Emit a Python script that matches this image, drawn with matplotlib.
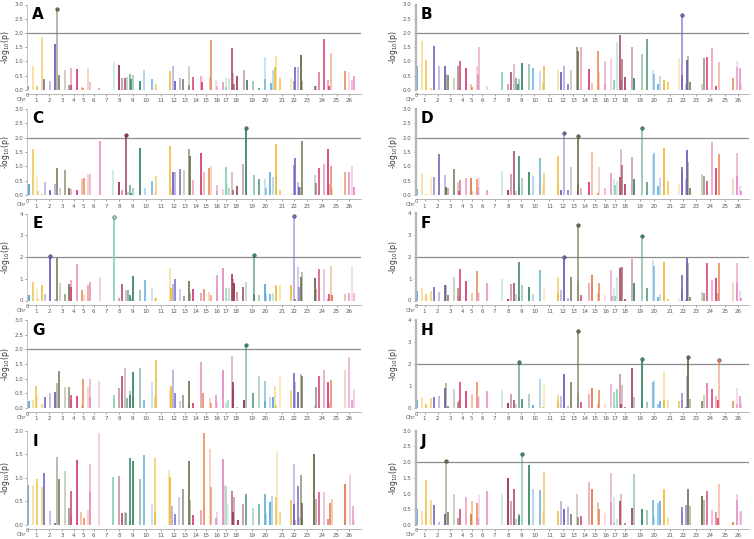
import numpy as np
import matplotlib
matplotlib.use("Agg")
import matplotlib.pyplot as plt
from matplotlib.transforms import blended_transform_factory, offset_copy

# chromosome label positions and colour borders (cumulative genome scale, 0-100)
chr_labels = [str(i) for i in range(1, 27)]
chr_mid = [2.65, 6.6, 10.4, 13.9, 16.8, 19.95, 23.7, 27.65, 31.65, 35.6, 40.1, 44.05, 47.3,
           50.6, 53.7, 56.9, 59.65, 62.7, 67.3, 71.45, 76.3, 80.1, 84.0, 88.35, 92.75, 96.6]
chr_edges = [1.2, 4.9, 8.75, 12.9, 15.5, 18.6, 23.0, 26.8, 29.65, 34.5, 38.0, 43.2, 46.2,
             49.2, 52.7, 55.8, 59.1, 61.0, 65.2, 70.4, 74.0, 79.5, 81.65, 87.0, 90.65, 96.0]

# A
a_pos = [0.3, 1.8, 2.8, 3.0, 4.5, 5.1, 6.8, 8.4, 8.8, 9.6, 11.4, 12.6, 13.0, 13.2, 15.0, 16.3, 16.6,
         18.3, 18.8, 21.5, 25.9, 27.6, 28.4, 29.4, 30.0, 30.7, 31.1, 31.8, 33.9, 35.1, 37.3, 38.2,
         38.5, 42.8, 43.6, 44.4, 45.7, 46.7, 48.4, 48.6, 49.6, 52.2, 52.4, 54.7, 55.1, 56.6, 56.8,
         58.6, 59.5, 59.7, 60.5, 61.5, 61.6, 62.0, 63.0, 64.9, 65.8, 67.8, 69.6, 71.3, 71.4, 73.0,
         73.6, 74.4, 74.7, 75.8, 79.1, 80.0, 80.2, 81.3, 82.0, 82.4, 86.3, 86.7, 87.4, 89.0, 90.2,
         90.6, 91.2, 95.2, 96.6, 97.5, 98.0]
a_val = [0.12, 0.84, 0.15, 0.10, 1.84, 0.37, 0.30, 1.60, 2.85, 0.52, 0.68, 0.17, 0.17, 0.78, 0.72,
         0.10, 0.05, 0.75, 0.27, 0.05, 0.98, 0.86, 0.40, 0.40, 0.44, 0.56, 0.38, 0.53, 0.30, 0.68,
         0.37, 0.15, 0.22, 0.65, 0.83, 0.30, 0.43, 0.38, 0.84, 0.18, 0.45, 0.47, 0.27, 0.45, 1.76,
         0.35, 0.13, 0.27, 0.43, 0.10, 0.42, 1.47, 0.60, 0.20, 0.50, 0.68, 0.33, 0.30, 0.05, 1.17,
         0.38, 0.24, 0.71, 0.80, 1.20, 0.42, 0.42, 0.30, 0.80, 0.80, 1.22, 0.30, 0.15, 0.12, 0.62,
         1.80, 0.35, 0.12, 1.30, 0.65, 0.62, 0.36, 0.50]

# B
b_pos = [0.5, 2.0, 3.2, 3.2, 4.7, 5.4, 7.1, 8.7, 9.0, 9.7, 11.6, 12.8, 13.3, 13.3, 15.0, 16.6, 17.0,
         18.3, 18.9, 18.8, 21.5, 25.8, 27.6, 28.5, 29.5, 30.2, 30.8, 31.1, 31.9, 33.9, 35.3, 37.3,
         38.3, 38.5, 42.8, 43.5, 44.4, 45.6, 46.7, 48.5, 48.8, 49.7, 52.1, 53.0, 54.6, 55.0, 56.7,
         56.7, 58.7, 59.4, 60.4, 61.4, 61.7, 62.0, 62.9, 64.8, 65.5, 67.8, 69.4, 71.3, 71.5, 72.7,
         73.4, 74.4, 74.6, 75.7, 79.0, 79.8, 80.0, 81.2, 81.4, 81.8, 82.2, 85.9, 86.6, 87.4, 88.9,
         90.0, 91.0, 95.2, 96.4, 96.5, 97.3, 97.7]
b_val = [0.85, 1.70, 1.05, 0.15, 0.05, 1.55, 0.85, 0.85, 0.57, 0.53, 0.40, 0.85, 1.02, 0.08, 0.75,
         0.22, 0.10, 0.85, 1.52, 0.57, 0.12, 0.62, 0.22, 0.62, 0.90, 0.43, 0.20, 0.37, 0.95, 0.90,
         0.78, 0.65, 0.25, 0.83, 0.68, 0.62, 0.85, 0.22, 0.68, 1.52, 1.35, 1.50, 0.72, 0.25, 1.35,
         0.63, 1.02, 0.22, 1.10, 0.35, 1.68, 1.93, 0.35, 1.10, 0.45, 1.52, 0.43, 1.27, 1.80, 0.68,
         0.57, 0.22, 0.50, 0.33, 0.30, 0.27, 1.12, 2.62, 0.52, 0.22, 1.05, 1.20, 0.28, 0.20, 1.13,
         1.17, 1.47, 0.15, 0.97, 0.40, 1.00, 0.80, 0.75, 0.20]

# C
c_pos = [0.4, 0.6, 1.8, 3.0, 3.2, 4.5, 5.3, 6.8, 8.4, 9.0, 9.8, 11.4, 12.6, 13.2, 15.0, 16.5, 17.0,
         18.3, 18.8, 21.7, 25.8, 27.6, 28.5, 29.6, 30.1, 30.8, 31.1, 31.8, 33.9, 35.3, 37.5, 38.3,
         38.6, 42.8, 43.0, 43.6, 44.4, 45.7, 46.9, 48.6, 48.8, 49.8, 52.2, 53.0, 54.6, 55.1, 56.8,
         57.0, 58.6, 59.5, 59.8, 60.5, 61.5, 61.8, 63.0, 64.8, 65.6, 68.0, 69.6, 71.4, 71.5, 72.9,
         73.6, 74.5, 74.7, 75.8, 79.1, 80.0, 80.2, 81.3, 81.5, 82.1, 82.4, 86.3, 86.7, 87.6, 89.0,
         90.3, 90.6, 91.1, 91.3, 95.2, 96.6, 97.5, 98.0]
c_val = [0.40, 0.38, 1.62, 0.62, 0.15, 0.05, 0.47, 0.18, 0.38, 0.95, 0.25, 0.87, 0.25, 0.22, 0.18,
         0.55, 0.60, 0.75, 0.75, 1.88, 0.87, 0.45, 0.18, 2.10, 0.10, 0.35, 0.08, 0.25, 1.63, 0.25,
         0.50, 0.10, 0.67, 1.72, 0.25, 0.80, 0.80, 0.92, 0.87, 1.60, 1.35, 0.53, 1.47, 0.82, 0.95,
         1.02, 0.35, 0.15, 0.22, 0.97, 0.42, 0.25, 0.80, 0.20, 0.32, 1.07, 2.35, 0.72, 0.57, 0.55,
         0.25, 0.80, 0.63, 1.77, 0.70, 0.20, 0.08, 1.05, 1.30, 0.45, 0.30, 0.30, 1.88, 0.70, 0.43,
         0.95, 1.08, 1.60, 0.40, 1.02, 0.25, 0.80, 0.80, 1.02, 0.30]

# D
d_pos = [0.5, 2.0, 3.2, 4.7, 5.4, 7.1, 8.7, 9.0, 9.8, 11.6, 12.8, 13.3, 13.1, 15.0, 16.6, 17.0, 18.3,
         18.9, 18.7, 21.5, 25.8, 27.6, 28.5, 29.5, 30.2, 30.9, 31.1, 31.9, 33.9, 35.3, 37.3, 38.3,
         38.5, 42.8, 42.8, 43.5, 44.4, 45.6, 46.7, 48.6, 48.8, 49.7, 52.1, 53.0, 54.6, 55.0, 56.7,
         58.7, 59.4, 59.7, 60.4, 61.4, 61.6, 62.0, 62.9, 64.8, 65.5, 67.8, 69.4, 71.3, 71.5, 72.7,
         73.4, 74.4, 74.6, 75.7, 79.0, 79.8, 80.0, 81.2, 81.4, 81.8, 82.2, 85.9, 86.6, 87.4, 88.9,
         90.0, 90.1, 91.0, 95.2, 96.4, 96.5, 97.3, 97.7]
d_val = [0.22, 0.77, 0.05, 0.62, 0.62, 1.43, 0.70, 0.30, 0.27, 0.90, 0.45, 0.52, 0.15, 0.60, 0.60,
         0.15, 0.55, 0.63, 0.30, 0.17, 0.85, 0.18, 0.73, 1.53, 0.15, 0.25, 1.35, 0.60, 0.80, 0.67,
         1.30, 0.35, 0.77, 1.35, 0.40, 0.20, 2.15, 0.18, 0.97, 0.40, 2.05, 0.25, 0.47, 1.50, 0.08,
         0.97, 0.25, 0.78, 0.55, 0.37, 0.50, 0.62, 1.62, 1.05, 0.38, 1.33, 0.58, 2.32, 0.47, 1.40,
         1.47, 0.33, 0.60, 1.65, 0.88, 0.50, 0.38, 0.80, 0.97, 0.57, 1.57, 1.17, 0.27, 0.73, 0.68,
         0.48, 1.85, 0.95, 0.08, 1.42, 0.55, 1.48, 0.68, 0.32, 0.15]

# E
e_pos = [0.4, 0.6, 1.8, 3.0, 3.2, 4.5, 5.3, 6.8, 8.4, 9.0, 9.8, 11.4, 12.6, 13.2, 13.1, 15.0, 16.5,
         17.0, 18.3, 18.8, 21.7, 25.9, 27.6, 28.5, 29.6, 30.1, 30.8, 31.1, 31.8, 33.9, 35.3, 37.5,
         38.3, 38.6, 42.8, 43.0, 43.6, 44.4, 45.7, 46.9, 48.6, 48.8, 49.8, 52.2, 53.0, 54.6, 55.1,
         56.8, 57.0, 58.6, 58.8, 59.5, 59.8, 60.5, 61.5, 61.8, 62.0, 63.0, 64.8, 65.6, 68.0, 68.1,
         69.6, 71.4, 71.5, 72.9, 73.6, 74.5, 74.7, 75.8, 79.1, 80.0, 80.2, 81.3, 81.5, 82.1, 82.4,
         86.3, 86.7, 87.6, 89.0, 90.3, 90.6, 91.1, 91.3, 95.2, 96.6, 97.5, 98.0]
e_val = [0.25, 0.20, 0.85, 0.55, 0.05, 0.72, 0.30, 2.05, 0.05, 1.95, 0.80, 0.32, 0.75, 0.95, 0.60,
         1.70, 0.50, 0.25, 0.72, 0.87, 1.10, 3.85, 0.12, 0.75, 0.48, 0.47, 0.25, 0.10, 1.12, 0.47,
         0.95, 0.57, 0.10, 0.13, 1.50, 0.57, 0.78, 1.00, 0.53, 0.22, 0.90, 0.33, 0.55, 0.35, 0.52,
         0.40, 0.27, 1.17, 0.58, 1.50, 0.47, 0.57, 0.10, 0.57, 1.20, 0.97, 0.80, 0.37, 0.62, 0.87,
         2.10, 0.30, 0.25, 0.75, 0.30, 0.30, 0.35, 0.67, 0.70, 0.72, 0.72, 3.90, 0.05, 1.52, 0.60,
         1.10, 1.30, 1.03, 0.55, 1.43, 1.43, 0.08, 0.30, 1.60, 0.25, 0.30, 0.35, 1.60, 0.35]

# F
f_pos = [0.5, 2.0, 3.2, 3.2, 4.7, 5.4, 7.1, 8.7, 9.0, 9.8, 11.6, 12.8, 13.3, 13.1, 15.0, 17.0, 18.3,
         18.9, 18.7, 21.5, 25.8, 27.6, 28.5, 29.5, 30.2, 30.9, 31.1, 31.9, 33.9, 35.3, 37.3, 38.5,
         42.8, 42.8, 43.5, 44.4, 45.6, 46.7, 48.6, 48.8, 49.7, 52.1, 53.0, 54.6, 55.0, 56.7, 58.7,
         59.0, 59.4, 59.7, 60.4, 61.4, 61.6, 62.0, 62.9, 64.8, 65.5, 67.8, 69.4, 71.3, 71.5, 72.7,
         73.4, 74.4, 74.6, 75.7, 79.0, 79.8, 80.0, 81.2, 81.4, 81.8, 82.2, 85.9, 86.6, 87.4, 88.9,
         90.0, 90.6, 91.0, 95.2, 96.4, 96.5, 97.3, 97.7]
f_val = [0.42, 0.55, 0.30, 0.08, 0.42, 0.60, 0.38, 0.73, 0.73, 0.25, 1.08, 0.55, 1.42, 0.22, 0.87,
         0.35, 1.33, 0.38, 0.35, 0.78, 1.00, 0.08, 0.75, 0.82, 0.30, 0.15, 1.75, 0.73, 0.60, 0.30,
         1.38, 0.60, 1.07, 0.35, 0.48, 2.00, 0.10, 1.08, 0.87, 3.45, 0.25, 0.82, 1.15, 0.35, 0.78,
         0.25, 1.40, 0.20, 0.57, 0.20, 1.07, 1.48, 1.52, 1.55, 0.05, 1.90, 0.82, 2.93, 0.55, 1.83,
         1.58, 0.15, 0.30, 1.75, 0.40, 0.05, 0.10, 0.50, 1.15, 0.08, 1.95, 1.70, 0.18, 0.37, 0.33,
         1.70, 0.93, 1.02, 0.33, 1.70, 0.82, 1.72, 0.78, 0.45, 0.10]

# G
g_pos = [0.4, 1.8, 2.6, 3.0, 4.5, 5.2, 6.8, 8.4, 8.8, 9.6, 11.4, 12.6, 13.0, 13.2, 15.0, 16.5, 16.8,
         18.3, 18.8, 18.7, 21.5, 25.9, 27.6, 28.4, 29.4, 30.0, 30.7, 30.9, 31.8, 33.8, 35.1, 37.3,
         38.2, 38.5, 42.8, 43.0, 43.6, 44.4, 45.7, 46.7, 48.4, 48.6, 49.6, 52.2, 52.8, 54.7, 55.1,
         56.6, 56.8, 58.6, 59.5, 60.1, 61.5, 61.6, 61.8, 63.0, 64.9, 65.6, 67.8, 69.6, 71.3, 71.4,
         72.8, 73.6, 74.4, 74.7, 75.8, 79.1, 80.0, 80.2, 81.3, 82.0, 82.4, 86.3, 86.7, 87.4, 89.0,
         90.2, 90.6, 91.2, 95.2, 96.6, 97.5, 98.0]
g_val = [0.25, 0.27, 0.75, 0.45, 0.12, 0.38, 0.50, 0.53, 0.85, 1.27, 0.73, 0.73, 0.45, 0.28, 0.42,
         0.10, 0.98, 0.72, 1.00, 0.37, 0.93, 0.45, 0.67, 1.10, 1.35, 0.35, 0.43, 0.57, 1.22, 1.35,
         0.28, 0.90, 0.42, 1.62, 0.62, 0.75, 1.30, 0.50, 0.25, 0.43, 0.92, 0.18, 0.18, 1.57, 0.50,
         0.35, 0.18, 0.43, 0.22, 1.30, 0.20, 0.27, 1.78, 0.62, 0.87, 0.05, 0.27, 2.15, 0.50, 1.10,
         0.93, 0.25, 0.38, 0.38, 0.75, 0.10, 1.10, 0.63, 1.20, 0.88, 0.55, 1.15, 1.10, 0.10, 0.73,
         1.10, 1.30, 0.87, 0.18, 0.95, 1.30, 1.75, 0.27, 0.65]

# H
h_pos = [0.5, 2.0, 3.2, 3.2, 4.7, 5.4, 7.1, 8.7, 9.0, 9.8, 11.6, 12.8, 13.3, 13.1, 15.0, 17.0, 18.3,
         18.9, 18.7, 21.5, 25.8, 27.6, 28.5, 29.5, 30.2, 31.1, 31.9, 33.9, 35.3, 37.3, 38.3, 38.5,
         42.8, 42.8, 43.5, 44.4, 45.6, 46.7, 48.6, 48.8, 49.7, 52.1, 53.0, 54.6, 55.0, 56.7, 58.7,
         59.4, 59.7, 60.4, 61.4, 61.6, 62.0, 62.9, 64.8, 65.5, 67.8, 69.4, 71.3, 71.5, 72.7, 73.4,
         74.4, 74.6, 75.7, 79.0, 79.8, 80.0, 81.2, 81.4, 81.8, 82.2, 85.9, 86.6, 87.4, 88.9, 90.0,
         90.6, 91.0, 95.2, 96.4, 96.5, 97.3, 97.7]
h_val = [0.38, 0.48, 0.18, 0.13, 0.45, 0.50, 0.53, 0.92, 1.15, 0.10, 0.88, 0.28, 1.17, 0.35, 0.77,
         0.63, 1.18, 0.55, 0.48, 0.78, 0.83, 0.22, 0.63, 0.38, 0.17, 2.10, 0.42, 0.63, 0.13, 1.30,
         0.05, 1.10, 0.60, 0.30, 0.55, 1.55, 0.10, 1.17, 0.70, 3.50, 0.27, 0.63, 0.92, 0.18, 0.80,
         0.17, 1.08, 0.73, 0.10, 0.88, 1.55, 0.20, 1.05, 0.05, 1.80, 0.50, 2.22, 0.27, 1.18, 1.27,
         0.18, 0.32, 1.62, 0.37, 0.35, 0.30, 0.35, 0.68, 0.05, 1.45, 2.30, 0.42, 0.32, 0.58, 1.13,
         0.85, 0.53, 0.37, 2.20, 0.30, 0.90, 0.20, 0.53, 0.25]

# I
i_pos = [0.3, 1.7, 2.8, 2.9, 4.3, 5.0, 6.7, 8.3, 8.9, 9.6, 11.3, 12.4, 13.0, 13.0, 14.8, 16.2, 16.9,
         18.2, 18.7, 18.8, 21.4, 25.7, 27.4, 28.4, 29.3, 29.7, 30.8, 30.9, 31.7, 33.9, 35.1, 37.3,
         38.3, 38.2, 42.6, 42.7, 43.4, 44.4, 45.6, 46.8, 48.5, 48.8, 49.8, 52.0, 52.9, 54.7, 55.1,
         56.7, 56.9, 58.6, 58.9, 59.6, 60.3, 61.5, 61.6, 61.9, 63.1, 64.8, 65.7, 67.8, 69.5, 71.4,
         71.5, 72.8, 73.4, 74.7, 74.9, 75.7, 79.0, 79.9, 80.1, 80.2, 81.3, 81.5, 82.0, 82.3, 82.5,
         86.1, 86.6, 87.5, 89.0, 90.3, 90.8, 91.4, 95.4, 96.7, 97.6, 98.1]
i_val = [0.85, 0.85, 0.97, 0.15, 0.80, 1.10, 0.30, 0.05, 1.45, 0.98, 1.15, 0.35, 0.72, 0.22, 1.38,
         0.28, 0.15, 0.32, 1.30, 0.70, 1.95, 1.02, 1.03, 0.25, 0.28, 0.25, 1.43, 0.08, 1.35, 0.97,
         1.48, 0.45, 1.42, 0.28, 1.17, 1.02, 0.40, 0.23, 0.60, 0.77, 1.35, 0.53, 0.22, 0.32, 1.95,
         1.62, 0.80, 0.15, 0.28, 1.40, 0.85, 0.82, 0.45, 0.72, 0.28, 0.60, 0.10, 0.45, 0.65, 0.35,
         0.45, 0.65, 0.25, 0.48, 0.62, 0.60, 1.58, 0.28, 0.52, 1.30, 0.45, 0.10, 0.83, 0.18, 1.07,
         0.47, 0.15, 1.50, 0.55, 0.70, 0.70, 0.12, 0.47, 0.55, 0.88, 1.05, 0.40, 0.12]

# J
j_pos = [0.5, 2.0, 3.1, 3.2, 4.7, 5.4, 7.1, 8.7, 9.0, 9.8, 11.6, 12.8, 13.3, 15.0, 16.6, 17.0, 18.3,
         18.9, 18.8, 21.5, 25.8, 27.6, 28.5, 29.5, 30.2, 30.9, 31.1, 31.9, 33.9, 35.3, 37.3, 38.3,
         38.5, 42.8, 43.5, 44.4, 45.6, 46.7, 48.5, 48.8, 49.7, 52.1, 53.0, 54.6, 55.0, 56.7, 58.7,
         58.7, 59.4, 59.6, 60.4, 61.4, 61.6, 62.9, 64.8, 65.5, 67.8, 69.4, 71.3, 71.5, 72.7, 73.4,
         74.4, 74.6, 75.7, 79.8, 80.0, 81.2, 81.8, 82.2, 85.9, 86.6, 87.4, 88.9, 90.0, 90.6, 91.0,
         95.2, 96.4, 96.5, 97.3, 97.7]
j_val = [0.52, 0.45, 1.42, 0.40, 0.80, 0.65, 0.08, 0.35, 2.05, 0.42, 1.00, 0.23, 0.50, 0.88, 0.35,
         0.75, 0.70, 0.97, 0.23, 1.08, 1.00, 1.48, 0.77, 1.13, 0.20, 0.35, 0.30, 2.25, 1.90, 1.13,
         1.10, 0.45, 1.70, 0.45, 0.77, 0.50, 0.57, 0.35, 0.98, 0.27, 0.28, 1.38, 1.13, 0.73, 0.52,
         0.38, 1.65, 0.72, 0.88, 0.05, 0.18, 0.75, 1.00, 0.05, 0.53, 1.63, 0.50, 0.47, 0.80, 0.30,
         0.70, 0.77, 0.80, 1.13, 0.27, 0.58, 0.40, 0.65, 1.13, 0.62, 0.93, 0.78, 1.08, 0.47, 0.42,
         0.22, 1.30, 0.08, 1.00, 0.80, 0.42, 0.43]

threshold = 2.0

# colour cycle, one per chromosome (repeats every 10)
palette = ["#5aa9dc", "#f0bd3c", "#6f62bd", "#6b6b48", "#d6417c",
           "#e57d45", "#e48ec4", "#8fd3b2", "#9b3350", "#3a8a68"]
shade = [1.0, 0.5, 0.8, 0.35, 0.65, 0.9, 0.45]

W, H = 754, 539
fig = plt.figure(figsize=(W / 100, H / 100), dpi=100)

# (letter, pos, val, ymax, left px, top px, bottom px)
panels = [
    ("A", a_pos, a_val, 3.0, 27.3, 4.5, 89.8),
    ("B", b_pos, b_val, 3.0, 415.7, 4.5, 89.8),
    ("C", c_pos, c_val, 3.0, 27.3, 108.8, 195.3),
    ("D", d_pos, d_val, 3.0, 415.7, 108.8, 195.3),
    ("E", e_pos, e_val, 4.0, 27.3, 213.5, 300.5),
    ("F", f_pos, f_val, 4.0, 415.7, 213.0, 300.5),
    ("G", g_pos, g_val, 3.0, 27.3, 320.0, 408.0),
    ("H", h_pos, h_val, 4.0, 415.7, 320.0, 408.0),
    ("I", i_pos, i_val, 2.0, 27.3, 430.7, 525.0),
    ("J", j_pos, j_val, 3.0, 415.7, 430.7, 525.0),
]

for letter, pos, val, ymax, left, top, bottom in panels:
    aw = 333.4
    ax = fig.add_axes([left / W, 1 - bottom / H, aw / W, (bottom - top) / H])
    pos = np.array(pos)
    val = np.array(val)
    chrom = np.searchsorted(chr_edges, pos)
    cols = [palette[c % 10] for c in chrom]

    if threshold < ymax:
        ax.axhline(threshold, color="#8c8c8c", lw=0.9, zorder=1)

    for k, (x, y, c) in enumerate(zip(pos, val, cols)):
        ax.vlines(x, 0, y, color=c, alpha=shade[k % len(shade)], lw=1.3, zorder=2)
        if y >= threshold:
            ax.plot(x, y, "o", ms=2.6, color=c, mec="#333333", mew=0.3, zorder=3)

    ax.set_xlim(0, 100)
    ax.set_ylim(0, ymax)
    if ymax == 4.0:
        ax.set_yticks([0, 1, 2, 3, 4])
        ax.set_yticklabels(["0", "1", "2", "3", "4"])
    else:
        yt = np.arange(0, ymax + 0.01, 0.5)
        ax.set_yticks(yt)
        ax.set_yticklabels(["%.1f" % t for t in yt])

    ax.set_xticks(chr_mid)
    ax.set_xticklabels(chr_labels)
    ax.tick_params(axis="both", labelsize=4, colors="#555555", length=1.5, width=0.4, pad=1.5)

    for s in ["top", "right"]:
        ax.spines[s].set_visible(False)
    ax.spines["bottom"].set_position(("outward", 3))
    ax.spines["bottom"].set_color("#aaaaaa")
    ax.spines["bottom"].set_linewidth(0.6)
    ax.spines["left"].set_color("#b5b5b5")
    ax.spines["left"].set_linewidth(1.6 if left > 300 else 0.6)

    # "0" just under the axis origin, "Chr" on the chromosome label row
    tr = blended_transform_factory(ax.transData, ax.transAxes)
    ax.text(0, 0, "0", transform=offset_copy(tr, fig=fig, y=-3.5, units="dots"),
            fontsize=3.5, color="#555555", ha="center", va="top")
    ax.text(-1.6, 0, "Chr", transform=offset_copy(tr, fig=fig, y=-7.0, units="dots"),
            fontsize=4, color="#555555", ha="center", va="top")

    ax.set_ylabel("-log$_{10}$(p)", fontsize=5.5, color="#333333")
    ax.yaxis.set_label_coords(-15.5 / aw, 0.5)
    ax.text(0.015, 0.97, letter, transform=ax.transAxes, fontsize=11,
            fontweight="bold", va="top", ha="left")

fig.savefig("out.png", dpi=100)
